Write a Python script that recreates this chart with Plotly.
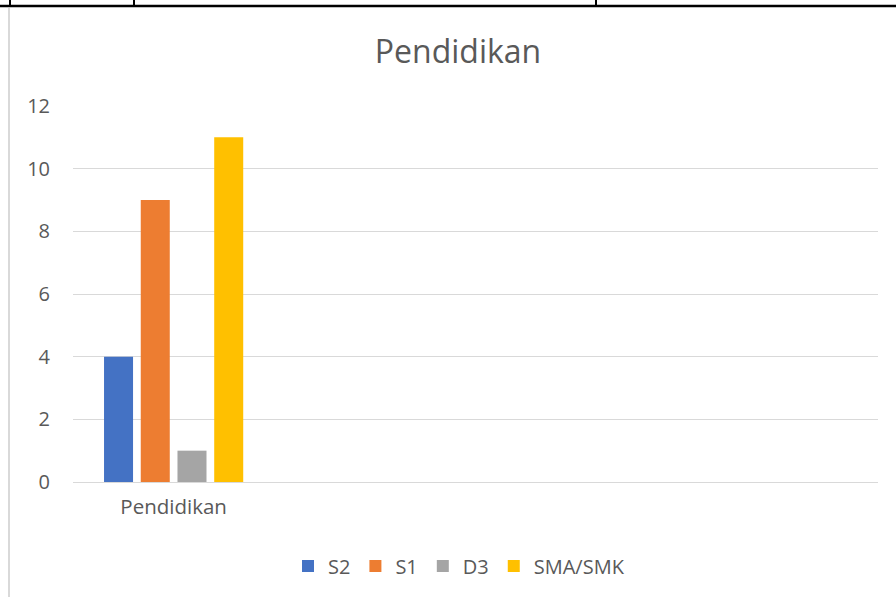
import plotly.graph_objects as go

categories = ["Pendidikan"]
series_names = ["S2", "S1", "D3", "SMA/SMK"]
series_values = [[4], [9], [1], [11]]
series_colors = ["#4472C4", "#ED7D31", "#A5A5A5", "#FFC000"]
y_ticks = [0, 2, 4, 6, 8, 10, 12]

W, H = 896, 597
ML, MR, MT, MB = 73, 18, 106, 115
pw, ph = W - ML - MR, H - MT - MB

def px(x):
    return (x - ML) / pw

def py(y):
    return (H - MB - y) / ph

fig = go.Figure()
for name, vals, col in zip(series_names, series_values, series_colors):
    fig.add_trace(go.Bar(x=categories, y=vals, name=name, marker=dict(color=col, line=dict(width=0))))

FONT = "Open Sans"
GREY = "#595959"

shapes = [
    dict(type="line", xref="paper", yref="paper", x0=px(0), x1=px(896), y0=py(6), y1=py(6),
         line=dict(color="black", width=2.5)),
    dict(type="line", xref="paper", yref="paper", x0=px(10), x1=px(10), y0=py(0), y1=py(6),
         line=dict(color="black", width=2)),
    dict(type="line", xref="paper", yref="paper", x0=px(134), x1=px(134), y0=py(0), y1=py(6),
         line=dict(color="black", width=2)),
    dict(type="line", xref="paper", yref="paper", x0=px(596), x1=px(596), y0=py(0), y1=py(6),
         line=dict(color="black", width=2)),
    dict(type="line", xref="paper", yref="paper", x0=px(9), x1=px(9), y0=py(8), y1=py(597),
         line=dict(color="#D9D9D9", width=2)),
]

fig.update_layout(
    width=W, height=H,
    margin=dict(l=ML, r=MR, t=MT, b=MB, autoexpand=False),
    paper_bgcolor="white", plot_bgcolor="white",
    font=dict(family=FONT, color=GREY, size=20),
    title=dict(text="Pendidikan", xref="container", x=458 / W, xanchor="center",
               y=1 - 52 / H, yanchor="middle",
               font=dict(size=32, color=GREY, family=FONT)),
    barmode="group", bargap=0.27, bargroupgap=0.21,
    xaxis=dict(type="category", range=[-0.5, 3.5], showgrid=False, zeroline=False,
               showline=False, ticks="", tickfont=dict(size=20.5, color=GREY), ticklabelstandoff=10),
    yaxis=dict(range=[0, 12], tickvals=y_ticks, showgrid=True, gridcolor="#D9D9D9", gridwidth=1.3,
               zeroline=True, zerolinecolor="#D9D9D9", zerolinewidth=1.3, showline=False,
               ticks="", tickfont=dict(size=20, color=GREY), ticklabelstandoff=22),
    legend=dict(orientation="h", x=px(459), xanchor="center", y=py(566), yanchor="middle",
                font=dict(size=20, color=GREY), itemwidth=30, traceorder="normal"),
    shapes=shapes,
)

fig.write_html(
    "out.html",
    config={"displayModeBar": False},
    post_script="document.body.style.margin='0';document.body.style.overflow='hidden';",
)
